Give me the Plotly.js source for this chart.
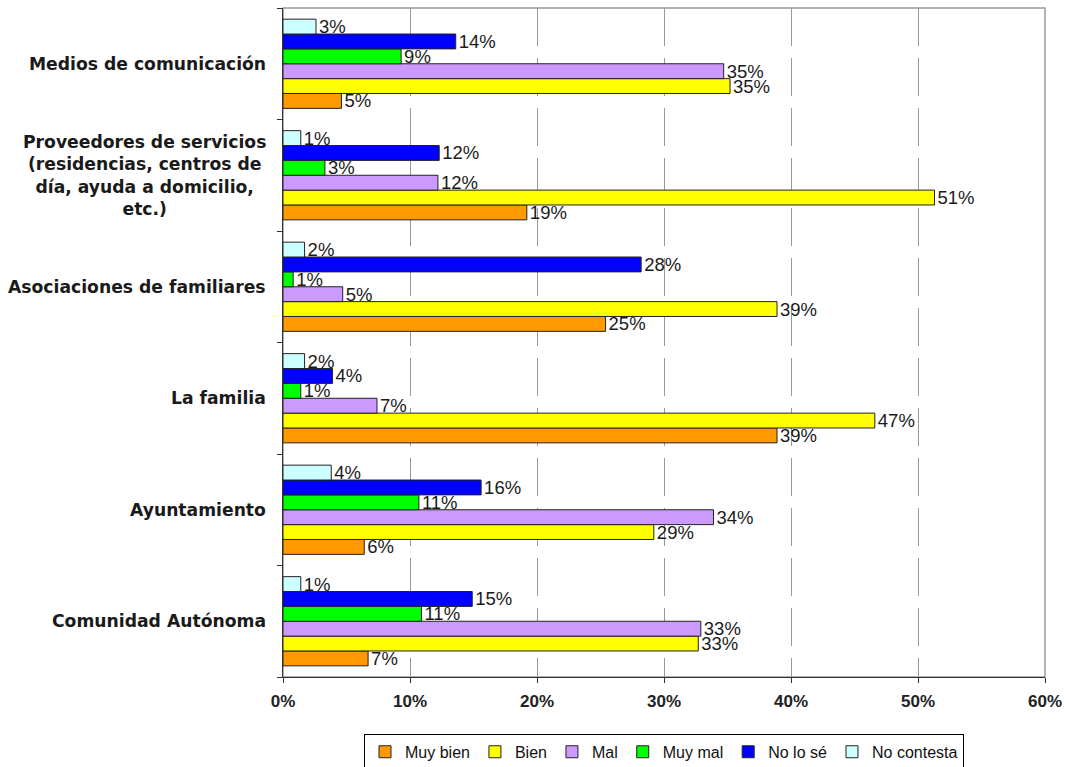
<!DOCTYPE html>
<html>
<head>
<meta charset="utf-8">
<script src="https://cdn.plot.ly/plotly-3.0.1.min.js"></script>
<style>html,body{margin:0;padding:0;background:#fff;}#chart{width:1069px;height:767px;}</style>
</head>
<body>
<div id="chart"></div>
<script>
// Categories, top to bottom as in the reference
const categories = [
  "Medios de comunicación",
  "Proveedores de servicios<br>(residencias, centros de<br>día, ayuda a domicilio,<br>etc.)",
  "Asociaciones de familiares",
  "La familia",
  "Ayuntamiento",
  "Comunidad Autónoma"
];
const seriesNames = ["Muy bien", "Bien", "Mal", "Muy mal", "No lo sé", "No contesta"];
const seriesColors = ["#FF9900", "#FFFF00", "#CC99FF", "#00FF00", "#0000FF", "#CCFFFF"];

// Values (%) per category, same order as categories
const muyBien    = [4.6, 19.2, 25.4, 38.9, 6.4, 6.7];
const bien       = [35.2, 51.3, 38.9, 46.6, 29.2, 32.7];
const mal        = [34.7, 12.2, 4.7, 7.4, 33.9, 32.9];
const muyMal     = [9.3, 3.3, 0.8, 1.4, 10.7, 10.9];
const noLoSe     = [13.6, 12.3, 28.2, 3.9, 15.6, 14.9];
const noContesta = [2.6, 1.4, 1.7, 1.7, 3.8, 1.4];

const xTicks = [0, 10, 20, 30, 40, 50, 60];

const allValues = [muyBien, bien, mal, muyMal, noLoSe, noContesta];

const traces = allValues.map((vals, i) => ({
  type: "bar",
  orientation: "h",
  name: seriesNames[i],
  y: categories,
  x: vals,
  marker: {color: seriesColors[i], line: {color: "#222", width: 1}},
  texttemplate: "%{x:.0f}%",
  textposition: "outside",
  cliponaxis: false,
  constraintext: "none",
  textangle: 0,
  textfont: {family: "Liberation Sans, Arial, sans-serif", size: 18.5, color: "#1a1a1a"},
  hoverinfo: "skip"
}));

const annotations = categories.map(c => ({
  xref: "paper", yref: "y",
  x: -0.02, y: c,
  xanchor: "right", yanchor: "middle",
  text: "<b>" + c + "</b>",
  showarrow: false,
  align: "center",
  font: {family: "DejaVu Sans, sans-serif", size: 17.2, color: "#1a1a1a"}
}));

const layout = {
  width: 1069, height: 767,
  margin: {l: 283, r: 24, t: 8, b: 90, pad: 0, autoexpand: false},
  paper_bgcolor: "#fff",
  plot_bgcolor: "#fff",
  barmode: "group",
  bargap: 0.2,
  bargroupgap: 0,
  showlegend: true,
  legend: {
    orientation: "h",
    x: 0.5, xanchor: "center",
    y: -0.085, yanchor: "top",
    bordercolor: "#000", borderwidth: 1,
    bgcolor: "#fff",
    itemwidth: 30,
    traceorder: "normal",
    font: {family: "Liberation Sans, Arial, sans-serif", size: 16, color: "#111"}
  },
  xaxis: {
    range: [0, 60],
    tickvals: xTicks,
    ticktext: xTicks.map(v => v + "%"),
    showgrid: true,
    gridcolor: "#999",
    gridwidth: 1,
    griddash: "38px,12px",
    zeroline: false,
    showline: true,
    linecolor: "#333",
    linewidth: 1,
    ticks: "outside",
    ticklen: 5,
    tickcolor: "#333",
    ticklabelstandoff: 4,
    automargin: false,
    tickfont: {family: "Liberation Sans, Arial, sans-serif", size: 17, color: "#222", weight: "bold"},
    fixedrange: true
  },
  yaxis: {
    type: "category",
    categoryorder: "array",
    categoryarray: categories.slice().reverse(),
    showgrid: false,
    showline: true,
    linecolor: "#333",
    linewidth: 1,
    ticks: "outside",
    tickson: "boundaries",
    ticklen: 5,
    tickcolor: "#333",
    showticklabels: false,
    zeroline: false,
    automargin: false,
    fixedrange: true
  },
  shapes: [{
    type: "rect", xref: "paper", yref: "paper",
    x0: 0, x1: 1, y0: 0, y1: 1,
    line: {color: "#999", width: 1.5},
    layer: "below"
  }],
  annotations: annotations,
  hovermode: false
};

Plotly.newPlot("chart", traces, layout, {displayModeBar: false, staticPlot: true});
</script>
</body>
</html>
